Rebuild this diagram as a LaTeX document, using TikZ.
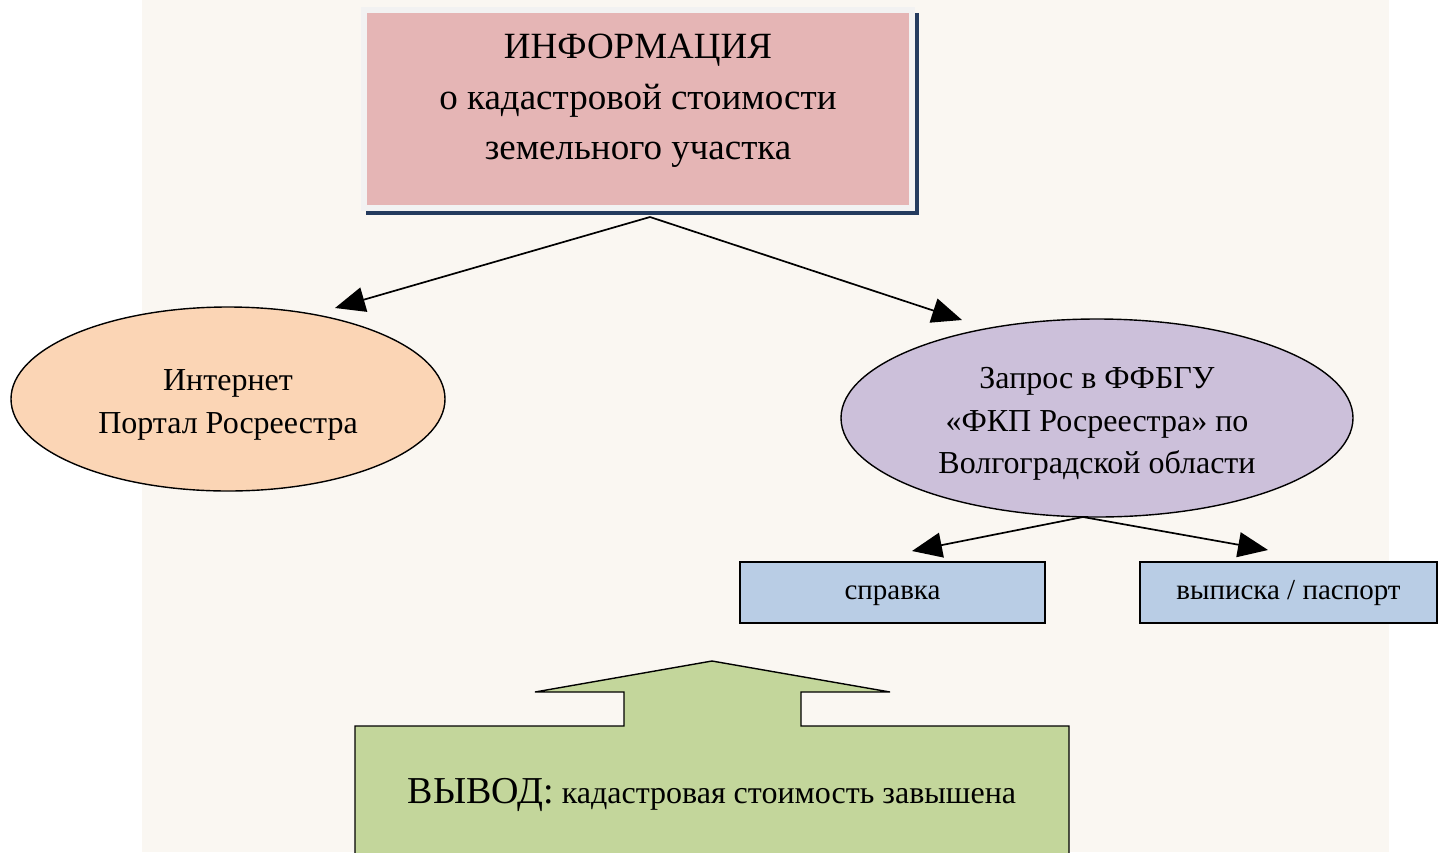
\documentclass[tikz,border=0pt]{standalone}
\usepackage{fontspec}
\setmainfont{Liberation Serif}
\usetikzlibrary{arrows.meta,shapes.geometric}
\definecolor{bgbeige}{HTML}{FAF7F2}
\definecolor{framegray}{HTML}{F2F2F2}
\definecolor{pinkfill}{HTML}{E5B5B5}
\definecolor{navyshadow}{HTML}{243B5E}
\definecolor{peachfill}{HTML}{FBD5B5}
\definecolor{lavfill}{HTML}{CCC0DA}
\definecolor{bluefill}{HTML}{B9CDE5}
\definecolor{greenfill}{HTML}{C3D69B}
\begin{document}
\begin{tikzpicture}[x=1pt,y=-1pt,
  infobox/.style={rectangle, fill=pinkfill, draw=framegray, line width=6pt, outer sep=0pt,
    minimum width=548pt, minimum height=198pt, inner sep=0pt},
  oval/.style={ellipse, draw=black, line width=1.4pt, inner sep=0pt},
  ovaltext/.style={align=center, inner sep=0pt, font=\fontsize{32}{42.5}\selectfont},
  docbox/.style={rectangle, draw=black, line width=1.4pt, fill=bluefill, inner sep=0pt,
    minimum height=61pt, text height=13pt, text depth=0pt, font=\fontsize{29}{34}\selectfont},
  conn/.style={draw=black, line width=1.7pt, -{Triangle[length=30pt,width=25pt]}},
  txt/.style={align=center, inner sep=0pt}
]
\useasboundingbox (0,0) rectangle (1439,852);
\fill[white] (0,0) rectangle (1439,852);
\fill[bgbeige] (142,0) rectangle (1389,852);

% top box
\node[infobox] (info) at (638,109) {};
\draw[navyshadow, line width=4pt]
  ([shift={(5,3)}]info.north east) -- ([shift={(5,5)}]info.south east) -- ([shift={(2,5)}]info.south west);
\node[txt, font=\fontsize{37}{50.5}\selectfont] (infotext) at (638,101)
  {ИНФОРМАЦИЯ\\о кадастровой стоимости\\земельного участка};

% ellipses
\node[oval, fill=peachfill, minimum width=434pt, minimum height=184pt] (internet) at (228,399) {};
\node[ovaltext] (internettext) at (228,405) {Интернет\\Портал Росреестра};
\node[oval, fill=lavfill, minimum width=512pt, minimum height=198pt] (zapros) at (1097,418) {};
\node[ovaltext] (zaprostext) at (1097,424) {Запрос в ФФБГУ\\«ФКП Росреестра» по\\Волгоградской области};

% document boxes
\node[docbox, minimum width=305pt] (spravka) at (892.5,592.5) {справка};
\node[docbox, minimum width=297pt] (vypiska) at (1288.5,592.5) {выписка / паспорт};

% connectors
\coordinate (split) at (650,217);
\coordinate (tipL) at (335,308);
\coordinate (tipR) at (962,320);
\coordinate (split2) at (1083,517);
\coordinate (tipS) at (912,551);
\coordinate (tipV) at (1268,550);
\draw[conn] (split) -- (tipL);
\draw[conn] (split) -- (tipR);
\draw[conn] (split2) -- (tipS);
\draw[conn] (split2) -- (tipV);

% up arrow with conclusion
\draw[fill=greenfill, draw=black, line width=1.4pt]
  (355,870) -- (355,726) -- (624,726) -- (624,692) -- (535,692) -- (712,661)
  -- (890,692) -- (801,692) -- (801,726) -- (1069,726) -- (1069,870);
\node[txt] (vyvod) at (712,795)
  {\fontsize{38}{40}\selectfont ВЫВОД:\fontsize{32}{40}\selectfont\ кадастровая стоимость завышена};
\end{tikzpicture}
\end{document}
